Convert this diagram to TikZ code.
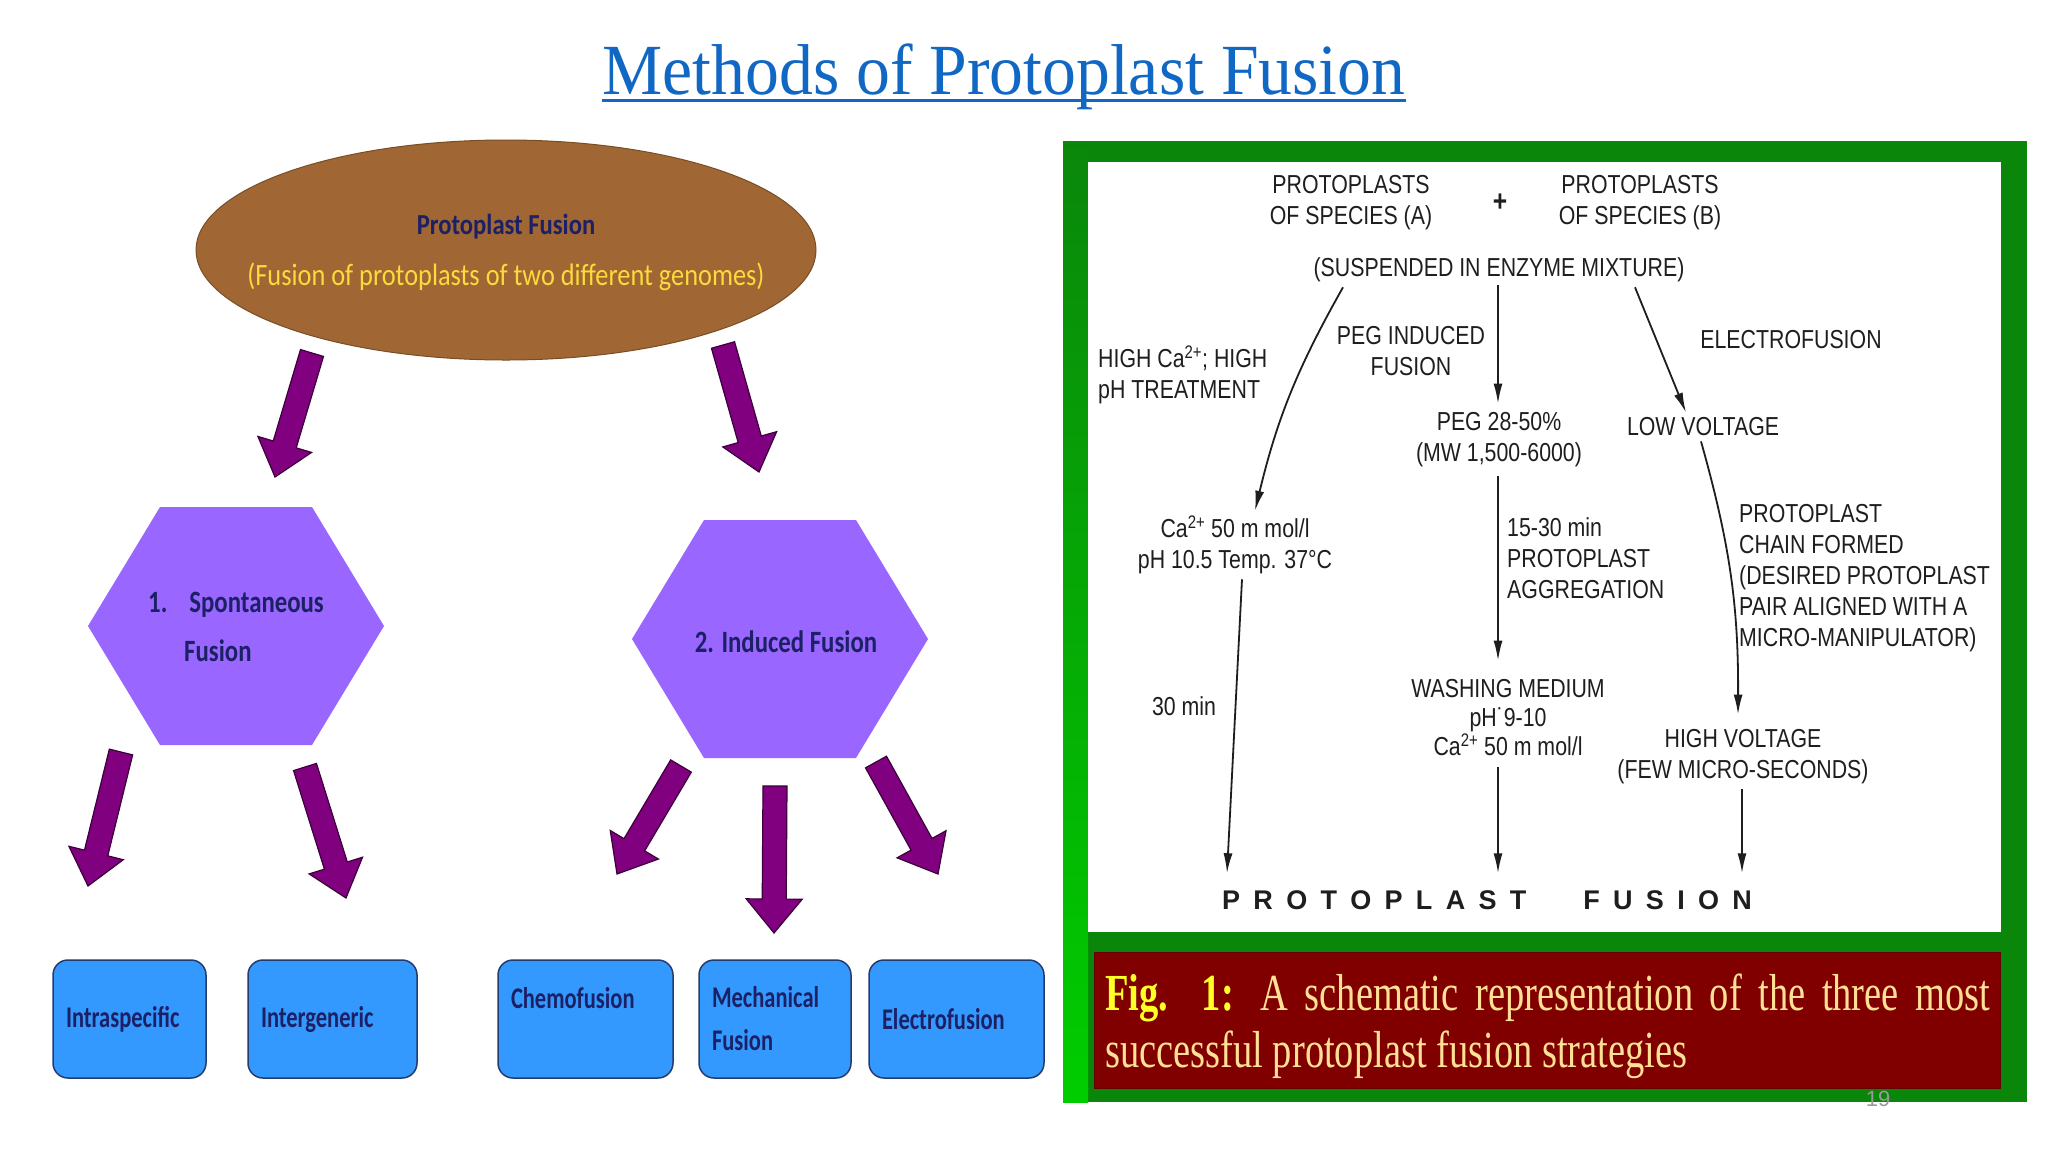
\documentclass[tikz,border=0pt]{standalone}
\usepackage{fontspec}
\setmainfont{Liberation Serif}
\newfontfamily\titlefont[FakeStretch=0.94]{Liberation Serif}
\newfontfamily\ellfont[FakeStretch=0.85]{Carlito}
\newfontfamily\hexfont[FakeStretch=0.8]{Carlito}
\newfontfamily\boxfont[FakeStretch=0.75]{Carlito}
\newfontfamily\diagfont[FakeStretch=0.82]{Liberation Sans}
\newfontfamily\fusefont{Liberation Sans}
\newfontfamily\capfont[FakeStretch=0.74]{Liberation Serif}
\usetikzlibrary{positioning}
\usetikzlibrary{calc}
\usetikzlibrary{shapes.geometric}
\usetikzlibrary{arrows.meta}
\definecolor{titleBlue}{RGB}{16,104,196}
\definecolor{brownFill}{RGB}{160,102,51}
\definecolor{brownEdge}{RGB}{120,78,38}
\definecolor{navyText}{RGB}{28,32,100}
\definecolor{goldText}{RGB}{250,218,60}
\definecolor{hexFill}{RGB}{153,102,255}
\definecolor{arrowFill}{RGB}{128,0,128}
\definecolor{arrowEdge}{RGB}{60,0,60}
\definecolor{boxFill}{RGB}{51,153,255}
\definecolor{boxEdge}{RGB}{35,60,110}
\definecolor{frameGreen}{RGB}{10,135,10}
\definecolor{brightGreen}{RGB}{0,205,0}
\definecolor{capRed}{RGB}{128,0,0}
\definecolor{capYellow}{RGB}{255,255,40}
\definecolor{capCream}{RGB}{255,224,150}
\definecolor{inkGrey}{RGB}{30,30,30}

\begin{document}
\begin{tikzpicture}[x=1pt,y=-1pt]

          \tikzstyle{hexText} = [text=navyText, font=\hexfont\bfseries\fontsize{31}{49}\selectfont, inner sep=0pt, align=left];
          \tikzstyle{methodBox} = [draw=boxEdge, line width=1.5pt, fill=boxFill, rounded corners=15pt, minimum height=118, text=navyText, font=\boxfont\bfseries\fontsize{30}{43}\selectfont, align=left, inner xsep=13pt];
          \tikzstyle{diagText} = [text=inkGrey, font=\diagfont\fontsize{26}{31}\selectfont, align=center, inner sep=3pt];
          \tikzstyle{flow} = [line width=1.8pt, draw=inkGrey, -{Latex[length=20pt,width=9pt]}];
          \tikzstyle{fatArrow} = [fill=arrowFill, draw=arrowEdge, line width=1.2pt, line join=miter,
            to path={($(\tikztostart)!12pt!90:(\tikztotarget)$)
              -- ($(\tikztotarget)!34pt!(\tikztostart)!12pt!-90:(\tikztostart)$)
              -- ($(\tikztotarget)!34pt!(\tikztostart)!28pt!-90:(\tikztostart)$)
              -- (\tikztotarget)
              -- ($(\tikztotarget)!34pt!(\tikztostart)!28pt!90:(\tikztostart)$)
              -- ($(\tikztotarget)!34pt!(\tikztostart)!12pt!90:(\tikztostart)$)
              -- ($(\tikztostart)!12pt!-90:(\tikztotarget)$) -- cycle}];

          \useasboundingbox (0,0) rectangle (2048,1152);
          \fill[white] (0,0) rectangle (2048,1152);

          % title
          \node[text=titleBlue, font=\titlefont\fontsize{72}{80}\selectfont, inner sep=0pt, anchor=base] (title) at (1004,94) {Methods of Protoplast Fusion};
          \draw[titleBlue, line width=3pt] ($(title.base west)+(0,6)$) -- ($(title.base east)+(0,6)$);

          % left chart
          \node[ellipse, minimum width=620, minimum height=220, fill=brownFill, draw=brownEdge, line width=1pt] (pfusion) at (506,250) {};
          \node[font=\ellfont\fontsize{31}{51}\selectfont, align=center, inner sep=0pt] (pfText) at (506,252)
            {\textcolor{navyText}{\bfseries\fontsize{29}{51}\selectfont Protoplast Fusion}\\\textcolor{goldText}{(Fusion of protoplasts of two different genomes)}};

          \fill[hexFill] (160,507) -- (312,507) -- (384,626) -- (312,745) -- (160,745) -- (88,626) -- cycle;
          \fill[hexFill] (704,520) -- (856,520) -- (928,639) -- (856,758) -- (704,758) -- (632,639) -- cycle;
          \node[hexText] (spont) at (236,627) {1.\hspace{22pt}Spontaneous\\\hspace{36pt}Fusion};
          \node[hexText] (induced) at (786,642) {2. Induced Fusion};

          \node[methodBox, text width=127] (intra) at (129.5,1019) {Intraspecific};
          \node[methodBox, text width=143] (inter) at (332.5,1019) {Intergeneric};
          \node[methodBox, text width=149] (chemo) at (585.5,1019) {Chemofusion\\\mbox{}};
          \node[methodBox, text width=126] (mech) at (775,1019) {Mechanical\\Fusion};
          \node[methodBox, text width=149] (electroBox) at (956.5,1019) {Electrofusion};

          \coordinate (a1s) at (312,353);
          \coordinate (a1e) at (275,477);
          \coordinate (a2s) at (723,345);
          \coordinate (a2e) at (759,472);
          \coordinate (a3s) at (121,752);
          \coordinate (a3e) at (88,886);
          \coordinate (a4s) at (305,767);
          \coordinate (a4e) at (346,898);
          \coordinate (a5s) at (681,766);
          \coordinate (a5e) at (617,874);
          \coordinate (a6s) at (775,786);
          \coordinate (a6e) at (774,933);
          \coordinate (a7s) at (876,762);
          \coordinate (a7e) at (938,874);
          \draw[fatArrow] (a1s) to (a1e);
          \draw[fatArrow] (a2s) to (a2e);
          \draw[fatArrow] (a3s) to (a3e);
          \draw[fatArrow] (a4s) to (a4e);
          \draw[fatArrow] (a5s) to (a5e);
          \draw[fatArrow] (a6s) to (a6e);
          \draw[fatArrow] (a7s) to (a7e);

          % right figure
          \fill[frameGreen] (1063,141) rectangle (2027,1102);
          \shade[top color=frameGreen, bottom color=brightGreen] (1063,141) rectangle (1088,1102);
          \fill[white] (1088,162) rectangle (2001,932);
          \fill[capRed, draw=capRed!80!black, line width=1pt] (1094,952) rectangle (2000,1088);

          \node[diagText] (specA) at (1351,203) {PROTOPLASTS\\OF SPECIES (A)};
          \node[diagText, font=\diagfont\bfseries\fontsize{30}{30}\selectfont] (plus) at (1500,203) {+};
          \node[diagText] (specB) at (1640,203) {PROTOPLASTS\\OF SPECIES (B)};
          \node[diagText] (suspend) at (1499,270) {(SUSPENDED IN ENZYME MIXTURE)};
          \node[diagText, align=left, anchor=west] (highCa) at (1095,375) {HIGH Ca\textsuperscript{2+}; HIGH\\pH TREATMENT};
          \node[diagText] (pegInduced) at (1411,351) {PEG INDUCED\\FUSION};
          \node[diagText] (electro) at (1791,340) {ELECTROFUSION};
          \node[diagText] (peg) at (1499,440) {PEG 28-50\%\\(MW 1,500-6000)};
          \node[diagText] (lowVolt) at (1703,427) {LOW VOLTAGE};
          \node[diagText] (calcium) at (1235,545) {Ca\textsuperscript{2+} 50 m mol/l\\pH 10.5 Temp. 37°C};
          \node[diagText, align=left, anchor=west] (aggreg) at (1504,558) {15-30 min\\PROTOPLAST\\AGGREGATION};
          \node[diagText, align=left, anchor=west] (chain) at (1736,578) {PROTOPLAST\\CHAIN FORMED\\(DESIRED PROTOPLAST\\PAIR ALIGNED WITH A\\MICRO-MANIPULATOR)};
          \node[diagText] (thirty) at (1184,706) {30 min};
          \node[diagText, font=\diagfont\fontsize{26}{29}\selectfont] (washing) at (1508,718) {WASHING MEDIUM\\pH˙9-10\\Ca\textsuperscript{2+} 50 m mol/l};
          \node[diagText] (highVolt) at (1743,757) {HIGH VOLTAGE\\(FEW MICRO-SECONDS)};
          \node[diagText, font=\fusefont\bfseries\fontsize{27}{30}\selectfont] (fusion) at (1487,900)
            {\spaceskip=13.3pt\relax P R O T O P L A S T\hspace{57pt}F U S I O N};

          \draw[flow] ($(suspend.south)+(-156,2)$) to[bend right=8] ($(calcium.north)+(20,-2)$);
          \draw[flow] ($(calcium.south)+(7,2)$) -- ($(fusion.north)+(-260,-14)$);
          \draw[flow] ($(suspend.south)+(-1,0)$) -- ($(peg.north)+(-1,-6)$);
          \draw[flow] ($(peg.south)+(-1,6)$) -- ($(washing.north)+(-10,-16)$);
          \draw[flow] ($(washing.south)+(-10,8)$) -- ($(fusion.north)+(11,-14)$);
          \draw[flow] ($(suspend.south)+(136,2)$) -- ($(lowVolt.north)+(-17,-2)$);
          \draw[flow] ($(lowVolt.south)+(-2,2)$) to[bend left=8] ($(highVolt.north)+(-5,-12)$);
          \draw[flow] ($(highVolt.south)+(-1,2)$) -- ($(fusion.north)+(255,-14)$);

          \node[font=\capfont\fontsize{52}{57}\selectfont, text width=885, align=justify, inner sep=0pt, anchor=base west] (caption) at (1105,1010)
            {\hyphenpenalty=10000\textcolor{capYellow}{\bfseries Fig. 1:} \textcolor{capCream}{A schematic representation of the three most\linebreak successful protoplast fusion strategies}};

          \node[text=black!40, font=\fusefont\fontsize{22}{24}\selectfont, inner sep=0pt] (pageNo) at (1878,1099) {19};
        \end{tikzpicture}
\end{document}
